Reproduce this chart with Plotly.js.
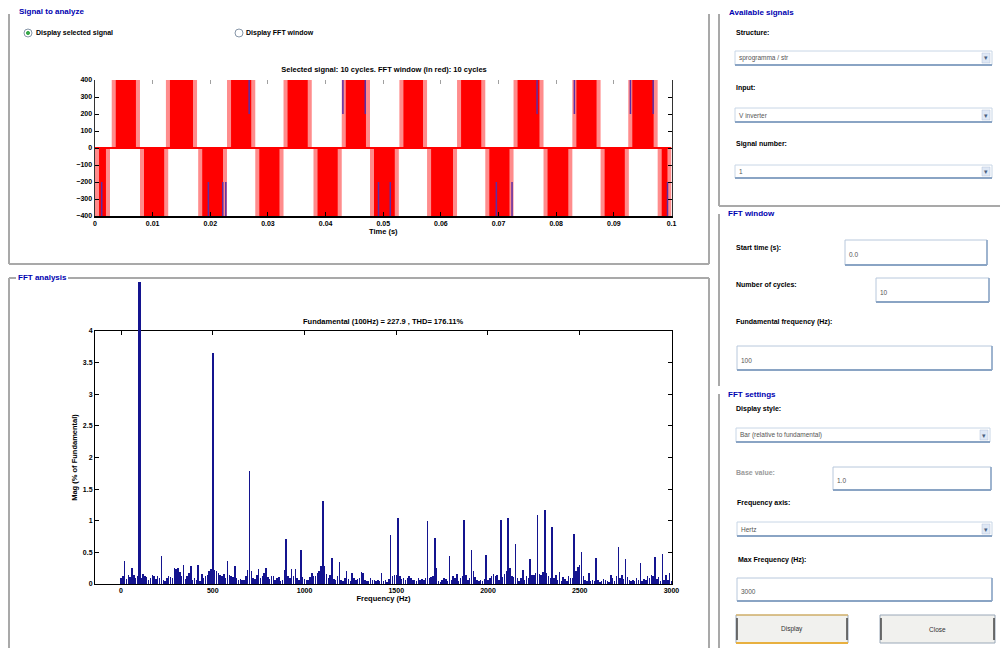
<!DOCTYPE html>
<html><head><meta charset="utf-8">
<script src="https://cdn.plot.ly/plotly-3.0.1.min.js"></script>
<style>html,body{margin:0;padding:0;background:#fff;overflow:hidden}#chart{width:1000px;height:648px}</style>
</head><body><div id="chart"></div>
<script>
// ---------------- DATA ----------------
// Time-domain signal (PWM inverter voltage), pulse blocks in seconds
const timeTicks = [0, 0.01, 0.02, 0.03, 0.04, 0.05, 0.06, 0.07, 0.08, 0.09, 0.1];
const timeTickText = ['0', '0.01', '0.02', '0.03', '0.04', '0.05', '0.06', '0.07', '0.08', '0.09', '0.1'];
const voltTicks = [-400, -300, -200, -100, 0, 100, 200, 300, 400];
const pulseLevel = 400;
const posStart = [0.0029, 0.0123, 0.0229, 0.0327, 0.0428, 0.0528, 0.0628, 0.0726, 0.0828, 0.0925];
const posEnd   = [0.0078, 0.0177, 0.0278, 0.0376, 0.0477, 0.0576, 0.0677, 0.0778, 0.0877, 0.0976];
const negStart = [0.0000, 0.0078, 0.0179, 0.0278, 0.0379, 0.0477, 0.0576, 0.0677, 0.0778, 0.0877, 0.0976];
const negEnd   = [0.0026, 0.0127, 0.0229, 0.0327, 0.0428, 0.0527, 0.0628, 0.0726, 0.0828, 0.0926, 0.1000];
// visible parts of the underlying (blue) signal
const blueNegT = [0.00116, 0.01967, 0.02217, 0.02269, 0.04918, 0.05122, 0.06962, 0.07234, 0.09931];
const blueNegRange = [-200, -400];
const bluePosT = [0.02674, 0.0430, 0.04688, 0.07668, 0.08316, 0.09288, 0.09682];
const bluePosRange = [400, 200];

// FFT magnitude (% of fundamental), 10 Hz resolution, 0..3000 Hz
const freqStep = 10;
const fftMag = [
  0.10, 0.12, 0.37, 0.08, 0.14, 0.11, 0.25, 0.15, 0.09, 0.12,
  100,  0.09, 0.16, 0.13, 0.11, 0.07, 0.10, 0.14, 0.12, 0.08,
  0.13, 0.10, 0.45, 0.07, 0.05, 0.10, 0.12, 0.11, 0.09, 0.25,
  0.24, 0.26, 0.19, 0.13, 0.30, 0.08, 0.12, 0.18, 0.28, 0.06,
  0.09, 0.07, 0.30, 0.05, 0.16, 0.10, 0.12, 0.14, 0.20, 0.23,
  3.66, 0.22, 0.21, 0.17, 0.15, 0.12, 0.16, 0.10, 0.37, 0.14,
  0.12, 0.11, 0.29, 0.09, 0.06, 0.08, 0.07, 0.06, 0.12, 0.22,
  1.78, 0.21, 0.10, 0.08, 0.14, 0.23, 0.09, 0.12, 0.18, 0.25,
  0.11, 0.08, 0.13, 0.12, 0.06, 0.10, 0.11, 0.05, 0.07, 0.22,
  0.71, 0.13, 0.09, 0.24, 0.12, 0.23, 0.10, 0.06, 0.54, 0.11,
  0.08, 0.07, 0.06, 0.11, 0.17, 0.13, 0.12, 0.18, 0.21, 0.28,
  1.32, 0.29, 0.16, 0.10, 0.14, 0.41, 0.08, 0.06, 0.12, 0.35,
  0.07, 0.05, 0.09, 0.20, 0.08, 0.05, 0.17, 0.10, 0.06, 0.08,
  0.09, 0.19, 0.17, 0.06, 0.05, 0.04, 0.10, 0.07, 0.06, 0.05,
  0.06, 0.04, 0.17, 0.05, 0.07, 0.03, 0.08, 0.77, 0.12, 0.15,
  0.14, 1.05, 0.13, 0.08, 0.10, 0.06, 0.09, 0.12, 0.10, 0.07,
  0.07, 0.05, 0.09, 0.06, 0.08, 0.07, 0.10, 0.99, 0.09, 0.11,
  0.12, 0.73, 0.25, 0.05, 0.03, 0.07, 0.10, 0.08, 0.04, 0.44,
  0.06, 0.12, 0.09, 0.16, 0.05, 0.09, 0.13, 1.01, 0.14, 0.07,
  0.10, 0.53, 0.20, 0.11, 0.06, 0.04, 0.07, 0.05, 0.08, 0.46,
  0.07, 0.09, 0.12, 0.16, 0.13, 0.14, 0.07, 1.01, 0.11, 0.16,
  0.20, 1.05, 0.25, 0.13, 0.11, 0.63, 0.10, 0.05, 0.09, 0.22,
  0.07, 0.12, 0.09, 0.39, 0.14, 0.15, 0.18, 1.09, 0.16, 0.15,
  0.19, 1.17, 0.17, 0.12, 0.10, 0.90, 0.09, 0.14, 0.07, 0.19,
  0.04, 0.11, 0.08, 0.05, 0.13, 0.09, 0.10, 0.79, 0.20, 0.27,
  0.30, 0.51, 0.12, 0.06, 0.05, 0.17, 0.04, 0.07, 0.05, 0.41,
  0.06, 0.03, 0.04, 0.08, 0.07, 0.05, 0.03, 0.15, 0.09, 0.05,
  0.12, 0.59, 0.10, 0.14, 0.08, 0.39, 0.11, 0.06, 0.05, 0.07,
  0.04, 0.09, 0.06, 0.33, 0.05, 0.08, 0.07, 0.12, 0.10, 0.15,
  0.13, 0.42, 0.08, 0.11, 0.05, 0.47, 0.07, 0.14, 0.06, 0.17,
  0.05
];
const freqTicks = [0, 500, 1000, 1500, 2000, 2500, 3000];
const magTicks = [0, 0.5, 1, 1.5, 2, 2.5, 3, 3.5, 4];

// ---------------- STYLE / HELPERS ----------------
const W = 1000, H = 648;
const fx = x => x / W, fy = y => 1 - y / H;
const FONT = 'Liberation Sans, Arial, sans-serif';
const shapes = [], annotations = [];
function line(x0, y0, x1, y1, color, width) {
  shapes.push({type: 'line', xref: 'paper', yref: 'paper', x0: fx(x0), y0: fy(y0), x1: fx(x1), y1: fy(y1),
    line: {color: color, width: width || 1}, layer: 'above'});
}
function rect(x0, y0, x1, y1, fill, color, width) {
  shapes.push({type: 'rect', xref: 'paper', yref: 'paper', x0: fx(x0), y0: fy(y0), x1: fx(x1), y1: fy(y1),
    fillcolor: fill, line: {color: color || fill, width: width || 0}, layer: 'above'});
}
function circle(cx, cy, r, fill, color) {
  shapes.push({type: 'circle', xref: 'paper', yref: 'paper', x0: fx(cx - r), y0: fy(cy + r), x1: fx(cx + r), y1: fy(cy - r),
    fillcolor: fill, line: {color: color || fill, width: 1}, layer: 'above'});
}
function text(x, y, t, o) {
  o = o || {};
  annotations.push({xref: 'paper', yref: 'paper', x: fx(x), y: fy(y), text: t, showarrow: false,
    xanchor: o.anchor || 'left', yanchor: 'middle', borderpad: 0,
    font: {family: FONT, size: o.size || 7, color: o.color || '#000', weight: o.weight || 'bold'}});
}
function dropdown(x0, y0, x1, y1, t) {
  rect(x0, y0, x1, y1, '#ffffff', '#c8d6e6', 1);
  line(x0, y1, x1, y1, '#8aa4c4', 2);
  rect(x1 - 10, y0 + 2, x1 - 2, y1 - 2, '#dfe8f5', '#b0c2da', 0.5);
  text(x1 - 6, (y0 + y1) / 2, '▾', {anchor: 'center', size: 7, color: '#4a5f80', weight: 'normal'});
  text(x0 + 3, (y0 + y1) / 2, t, {color: '#555', weight: 'normal', size: 6.5});
}
function inputBox(x0, y0, x1, y1, t) {
  rect(x0, y0, x1, y1, '#ffffff', '#b8c8dc', 1);
  line(x0, y1, x1, y1, '#8aa4c4', 2);
  line(x1, y0, x1, y1, '#8aa4c4', 1.5);
  text(x0 + 3, (y0 + y1) / 2 + 2, t, {color: '#555', weight: 'normal', size: 6.5});
}
function button(x0, y0, x1, y1, t, accent) {
  rect(x0, y0, x1, y1, '#f1f1ee', '#9aa8b8', 1);
  if (accent) { line(x0, y1, x1, y1, accent, 2); line(x0, y0, x1, y0, accent, 1); }
  line(x0 + 1, y0 + 3, x0 + 1, y1 - 3, '#444', 1.5);
  line(x1 - 1, y0 + 3, x1 - 1, y1 - 3, '#444', 1.5);
  text((x0 + x1) / 2, (y0 + y1) / 2, t, {anchor: 'center', weight: 'normal', color: '#333', size: 6.5});
}

// ---------------- GUI FRAME ----------------
const PANEL = '#a9a9a9', TITLE = '#0000b0';
// Signal to analyze
line(9, 14, 9, 264, PANEL, 2); line(9, 264, 709, 264, PANEL, 2); line(709, 14, 709, 264, PANEL, 2);
text(18, 12, 'Signal to analyze', {color: TITLE, size: 8});
circle(28, 33, 4, '#ffffff', '#8796a8'); circle(28, 33, 1.6, '#3aa84a');
text(35, 33, 'Display selected signal');
circle(239, 33, 4, '#ffffff', '#8796a8');
text(245, 33, 'Display FFT window');
// FFT analysis
line(9, 278, 16, 278, PANEL, 2); line(68, 278, 709, 278, PANEL, 2);
line(9, 278, 9, 648, PANEL, 2); line(709, 278, 709, 648, PANEL, 2);
text(17, 277, 'FFT analysis', {color: TITLE, size: 8});
// Available signals
line(719, 14, 719, 206, PANEL, 2); line(719, 206, 1000, 206, PANEL, 2);
text(728, 13, 'Available signals', {color: TITLE, size: 8});
text(735, 32, 'Structure:');
dropdown(735, 51, 992, 65, 'sprogramma / str');
text(735, 88, 'Input:');
dropdown(735, 108, 992, 122, 'V inverter');
text(735, 144, 'Signal number:');
dropdown(735, 165, 992, 178, '1');
// FFT window
line(719, 214, 719, 386, PANEL, 2);
text(727, 213, 'FFT window', {color: TITLE, size: 8});
text(735, 248, 'Start time (s):');
inputBox(845, 240, 987, 265, '0.0');
text(735, 285, 'Number of cycles:');
inputBox(876, 278, 989, 302, '10');
text(735, 322, 'Fundamental frequency (Hz):');
inputBox(737, 346, 992, 370, '100');
// FFT settings
line(719, 394, 719, 648, PANEL, 2);
text(727, 394, 'FFT settings', {color: TITLE, size: 8});
text(735, 409, 'Display style:');
dropdown(736, 428, 990, 442, 'Bar (relative to fundamental)');
text(735, 472, 'Base value:', {color: '#9a9a9a'});
inputBox(833, 467, 991, 490, '1.0');
text(736, 503, 'Frequency axis:');
dropdown(737, 522, 992, 536, 'Hertz');
text(737, 560, 'Max Frequency (Hz):');
inputBox(737, 578, 992, 601, '3000');
button(736, 615, 848, 643, 'Display', '#e8b040');
button(880, 615, 995, 643, 'Close', null);

// FFT plot title
text(383, 321, 'Fundamental (100Hz) = 227.9 , THD= 176.11%', {anchor: 'center', size: 7.5});

// ---------------- TRACES ----------------
const edge = 0.0007; // width of the lighter switching band (style)
function blocks(starts, ends, level, inset) {
  const x = [], y = [];
  starts.forEach((s, i) => {
    const a = s + inset, b = ends[i] - inset;
    x.push(a, a, b, b, a, null); y.push(0, level, level, 0, 0, null);
  });
  return {x, y};
}
const pinkP = blocks(posStart, posEnd, pulseLevel, 0), pinkN = blocks(negStart, negEnd, -pulseLevel, 0);
const redP = blocks(posStart, posEnd, pulseLevel, edge), redN = blocks(negStart, negEnd, -pulseLevel, edge);
function segs(ts, range) {
  const x = [], y = [];
  ts.forEach(t => { x.push(t, t, null); y.push(range[0], range[1], null); });
  return {x, y};
}
const bN = segs(blueNegT, blueNegRange), bP = segs(bluePosT, bluePosRange);

const common = {hoverinfo: 'skip', showlegend: false};
const traces = [
  Object.assign({type: 'scatter', mode: 'lines', x: pinkP.x.concat(pinkN.x), y: pinkP.y.concat(pinkN.y),
    fill: 'toself', fillcolor: '#ff8c8c', line: {width: 0, color: '#ff8c8c'}, xaxis: 'x', yaxis: 'y'}, common),
  Object.assign({type: 'scatter', mode: 'lines', x: redP.x.concat(redN.x), y: redP.y.concat(redN.y),
    fill: 'toself', fillcolor: '#ff0000', line: {width: 0, color: '#ff0000'}, xaxis: 'x', yaxis: 'y'}, common),
  Object.assign({type: 'scatter', mode: 'lines', x: bN.x.concat(bP.x), y: bN.y.concat(bP.y),
    line: {width: 1.5, color: '#5a2ea6'}, xaxis: 'x', yaxis: 'y'}, common),
  Object.assign({type: 'scatter', mode: 'lines', x: [timeTicks[0], timeTicks[timeTicks.length - 1]], y: [0, 0],
    line: {width: 2, color: '#ff0000'}, xaxis: 'x', yaxis: 'y'}, common),
  Object.assign({type: 'scatter', mode: 'lines', x: [], y: [], xaxis: 'x3', yaxis: 'y'}, common),
  Object.assign({type: 'scatter', mode: 'lines', x: [], y: [], xaxis: 'x2', yaxis: 'y2'}, common),
  Object.assign({type: 'bar', x: fftMag.map((v, i) => i * freqStep), y: fftMag,
    width: fftMag.map(v => (v > 4 ? 16 : 8)),
    marker: {color: '#14148f', line: {width: 0}}, xaxis: 'x2', yaxis: 'y3'}, common)
];

const tickFont = {family: FONT, size: 7, color: '#000', weight: 'bold'};
const layout = {
  width: W, height: H, margin: {l: 0, r: 0, t: 0, b: 0},
  paper_bgcolor: '#ffffff', plot_bgcolor: 'rgba(0,0,0,0)',
  showlegend: false, bargap: 0,
  font: {family: FONT},
  title: {text: 'Selected signal: 10 cycles. FFT window (in red): 10 cycles', x: 0.384, xanchor: 'center',
    y: fy(69), yanchor: 'middle', font: {family: FONT, size: 7.5, color: '#000', weight: 'bold'}},
  xaxis: {domain: [fx(95), fx(671.5)], range: [0, 0.1], anchor: 'y', tickmode: 'array', tickvals: timeTicks,
    ticktext: timeTickText, ticks: 'inside', ticklen: 4, tickcolor: '#000', showline: true, linecolor: '#000',
    linewidth: 2, mirror: false, showgrid: false, zeroline: false, tickfont: tickFont,
    title: {text: 'Time (s)', font: {family: FONT, size: 7.5, color: '#000', weight: 'bold'}, standoff: 0}},
  xaxis3: {overlaying: 'x', side: 'top', anchor: 'y', range: [0, 0.1], tickmode: 'array', tickvals: timeTicks,
    ticks: 'inside', ticklen: 4, tickcolor: '#a0a0a0', showticklabels: false, showline: false, showgrid: false, zeroline: false},
  yaxis: {domain: [fy(216), fy(80)], range: [-400, 400], anchor: 'x', tickmode: 'array', tickvals: voltTicks,
    ticks: 'inside', ticklen: 4, tickcolor: '#000', showline: true, linecolor: '#333', linewidth: 1.5, mirror: 'ticks',
    showgrid: false, zeroline: false, tickfont: tickFont},
  xaxis2: {domain: [fx(95), fx(672)], range: [-142, 3003], anchor: 'y2', tickmode: 'array', tickvals: freqTicks,
    ticks: 'inside', ticklen: 4, tickcolor: '#000', showline: true, linecolor: '#000', linewidth: 1, mirror: 'ticks',
    showgrid: false, zeroline: false, tickfont: tickFont,
    title: {text: 'Frequency (Hz)', font: {family: FONT, size: 7.5, color: '#000', weight: 'bold'}, standoff: 2}},
  yaxis2: {domain: [fy(584), fy(331)], range: [0, 4], anchor: 'x2', tickmode: 'array', tickvals: magTicks,
    ticks: 'inside', ticklen: 4, tickcolor: '#000', showline: true, linecolor: '#000', linewidth: 1, mirror: 'ticks',
    showgrid: false, zeroline: false, tickfont: tickFont,
    title: {text: 'Mag (% of Fundamental)', font: {family: FONT, size: 7.5, color: '#000', weight: 'bold'}, standoff: 4}},
  yaxis3: {domain: [fy(584), fy(282)], range: [0, 4 * (584 - 282) / (584 - 331)], anchor: 'x2', visible: false,
    showgrid: false, zeroline: false},
  shapes: shapes, annotations: annotations
};
Plotly.newPlot('chart', traces, layout, {staticPlot: true, displayModeBar: false});
</script></body></html>
